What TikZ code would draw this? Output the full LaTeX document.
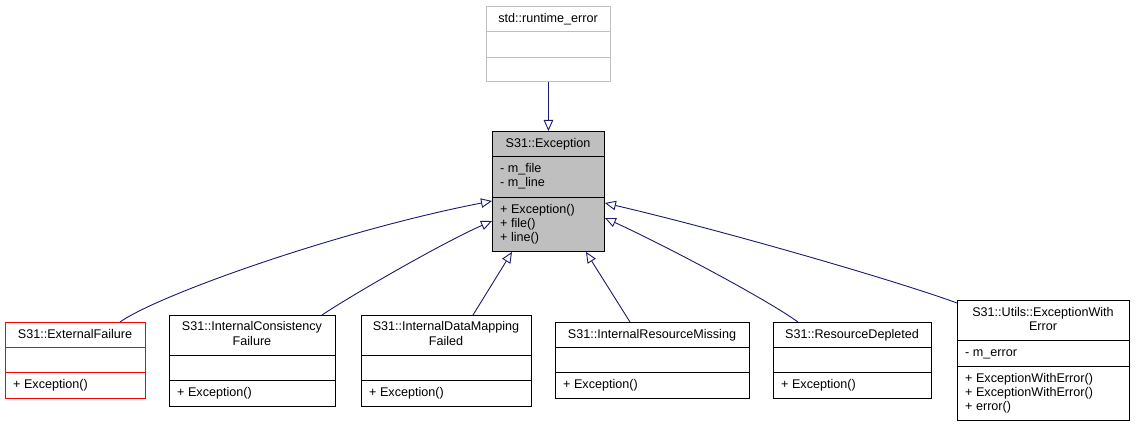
\documentclass[tikz,border=0pt]{standalone}
\usepackage{fontspec}
\setmainfont{Liberation Sans}
\usetikzlibrary{arrows.meta}
\definecolor{edgeblue}{HTML}{191970}
\definecolor{boxgray}{HTML}{BFBFBF}
\definecolor{rtgray}{HTML}{C0C0C0}
\newcommand\dgfont{\fontsize{12.6}{14}\selectfont}
\begin{document}
\begin{tikzpicture}[x=1pt,y=-1pt,
  cls/.style={draw=black, line width=0.9pt, fill=white, inner sep=0pt, anchor=north west},
  sep/.style={draw=black, line width=0.9pt},
  ttl/.style={font=\dgfont, inner sep=0pt, anchor=base},
  mem/.style={font=\dgfont, inner sep=0pt, anchor=base west},
  inh/.style={draw=edgeblue, line width=0.9pt, -{Triangle[length=11pt,width=9.5pt,fill=white,line width=0.9pt]}}]
\useasboundingbox (0,0) rectangle (1135,427);

% std::runtime_error
\node[cls, draw=rtgray, minimum width=124pt, minimum height=75pt] (rt) at (486,6) {};
\draw[sep, draw=rtgray] (486,31) -- (610,31) (486,57) -- (610,57);
\node[ttl] (rtT) at (548,23) {std::runtime\_error};

% S31::Exception
\node[cls, fill=boxgray, minimum width=112pt, minimum height=120pt] (exc) at (492,131) {};
\draw[sep] (492,156) -- (604,156) (492,197) -- (604,197);
\node[ttl] (excT) at (548,148) {S31::Exception};
\node[mem] (excA1) at (500,172.5) {- m\_file};
\node[mem] (excA2) at (500,186.5) {- m\_line};
\node[mem] (excM1) at (500,213.5) {+ Exception()};
\node[mem] (excM2) at (500,227.5) {+ file()};
\node[mem] (excM3) at (500,241.5) {+ line()};

% S31::ExternalFailure
\node[cls, draw=red, minimum width=140pt, minimum height=76pt] (ef) at (5,322) {};
\draw[sep, draw=red] (5,347) -- (145,347) (5,372) -- (145,372);
\node[ttl] (efT) at (75,339) {S31::ExternalFailure};
\node[mem] (efM1) at (13,388.5) {+ Exception()};

% S31::InternalConsistencyFailure
\node[cls, minimum width=166pt, minimum height=91pt] (icf) at (169,315) {};
\draw[sep] (169,355) -- (335,355) (169,380) -- (335,380);
\node[ttl] (icfT1) at (252,330.5) {S31::InternalConsistency};
\node[ttl] (icfT2) at (252,345.5) {Failure};
\node[mem] (icfM1) at (177,396.5) {+ Exception()};

% S31::InternalDataMappingFailed
\node[cls, minimum width=170pt, minimum height=91pt] (idm) at (361,315) {};
\draw[sep] (361,355) -- (531,355) (361,380) -- (531,380);
\node[ttl] (idmT1) at (446,330.5) {S31::InternalDataMapping};
\node[ttl] (idmT2) at (446,345.5) {Failed};
\node[mem] (idmM1) at (369,396.5) {+ Exception()};

% S31::InternalResourceMissing
\node[cls, minimum width=194pt, minimum height=76pt] (irm) at (555,322) {};
\draw[sep] (555,347) -- (749,347) (555,372) -- (749,372);
\node[ttl] (irmT) at (652,339) {S31::InternalResourceMissing};
\node[mem] (irmM1) at (563,388.5) {+ Exception()};

% S31::ResourceDepleted
\node[cls, minimum width=158pt, minimum height=76pt] (rd) at (773,322) {};
\draw[sep] (773,347) -- (931,347) (773,372) -- (931,372);
\node[ttl] (rdT) at (852,339) {S31::ResourceDepleted};
\node[mem] (rdM1) at (781,388.5) {+ Exception()};

% S31::Utils::ExceptionWithError
\node[cls, minimum width=172pt, minimum height=120pt] (ewe) at (957,300) {};
\draw[sep] (957,340) -- (1129,340) (957,366) -- (1129,366);
\node[ttl] (eweT1) at (1043,316.5) {S31::Utils::ExceptionWith};
\node[ttl] (eweT2) at (1043,330.5) {Error};
\node[mem] (eweA1) at (965,356.5) {- m\_error};
\node[mem] (eweM1) at (965,382) {+ ExceptionWithError()};
\node[mem] (eweM2) at (965,396) {+ ExceptionWithError()};
\node[mem] (eweM3) at (965,410) {+ error()};

% inheritance connectors
\draw[inh] (rt.south) -- (exc.north);
\draw[inh] ([xshift=115pt]ef.north west) .. controls +(40,-28) and +(-150,29) .. ([yshift=-70pt]exc.north west);
\draw[inh] ([xshift=153pt]icf.north west) .. controls +(30,-20) and +(-50,22) .. ([yshift=-90pt]exc.north west);
\draw[inh] ([xshift=112pt]idm.north west) -- ([xshift=20pt]exc.south west);
\draw[inh] ([xshift=75pt]irm.north west) -- ([xshift=-19pt]exc.south east);
\draw[inh] ([xshift=25pt]rd.north west) .. controls +(-35,-25) and +(55,25) .. ([yshift=-87pt]exc.north east);
\draw[inh] ([yshift=-3pt]ewe.north west) .. controls +(-60,-22) and +(120,28) .. ([yshift=-72pt]exc.north east);
\end{tikzpicture}
\end{document}
